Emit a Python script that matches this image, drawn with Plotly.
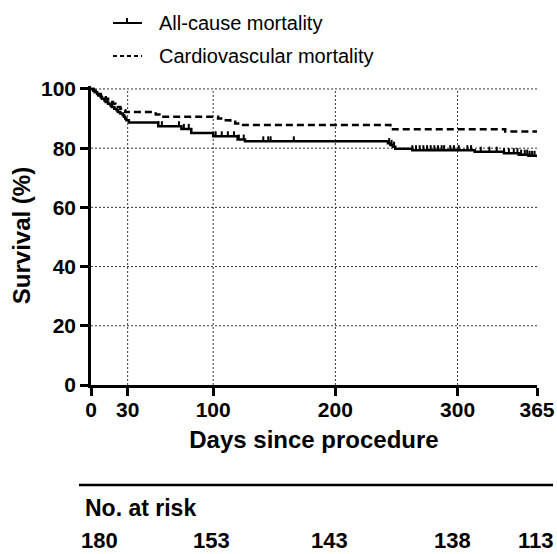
import numpy as np
import plotly.graph_objects as go

# ---------------- data ----------------
# All-cause mortality (Kaplan-Meier steps: day, survival %)
ac_days = [0, 2, 3, 5, 6, 8, 9, 11, 12, 14, 16, 17, 19, 21, 22, 24, 26, 27, 28, 29, 31,
           55, 74, 82, 100, 120, 126, 243, 245, 247, 249, 263, 314, 338, 350, 358, 365]
ac_surv = [100, 99.4, 98.9, 98.3, 97.8, 97.2, 96.7, 96.1, 95.6, 95.0, 94.4, 93.9, 93.3,
           92.8, 92.2, 91.7, 91.1, 90.6, 90.0, 89.4, 88.7,
           87.4, 86.5, 85.1, 84.0, 82.9, 82.3, 81.7, 81.1, 80.5, 79.8, 79.3, 78.8, 78.3,
           77.8, 77.4, 77.4]
# censored observations (all-cause curve)
ac_censor_days = [55, 58, 72, 76, 80, 82, 102, 107, 112, 117, 121, 125, 141, 145, 147, 166,
                  244, 246, 248, 263, 266, 269, 272, 275, 278, 281, 284, 287, 289, 294, 297,
                  301, 308, 311, 319, 326, 332, 338, 342, 346, 349, 352, 355, 357, 359, 361, 363]

# Cardiovascular mortality
cv_days = [0, 2, 4, 6, 8, 10, 12, 14, 16, 18, 20, 22, 24, 26, 28, 53, 56,
           104, 109, 114, 118, 123, 245, 339, 365]
cv_surv = [100, 99.4, 98.9, 98.3, 97.8, 97.2, 96.7, 96.1, 95.6, 95.0, 94.4, 93.9, 93.3,
           92.8, 92.2, 91.4, 90.6, 90.0, 89.4, 88.9, 88.3, 87.8, 86.4, 85.6, 85.6]

x_ticks = [0, 30, 100, 200, 300, 365]
y_ticks = [0, 20, 40, 60, 80, 100]
x_grid = [30, 100, 200, 300]
y_grid = [20, 40, 60, 80, 100]

risk_days = [0, 100, 200, 300, 365]
risk_counts = [180, 153, 143, 138, 113]

series_names = ["All-cause mortality", "Cardiovascular mortality"]

# ---------------- layout constants ----------------
W, H = 557, 554
ML, MR, MT, MB = 91, 20, 86, 169
PW = W - ML - MR
PH = H - MT - MB
FONT = "Arial, Liberation Sans, sans-serif"


def px_x(px):
    return (px - ML) / PW


def px_y(py):
    return (H - MB - py) / PH


def step_value(days, surv, t):
    i = np.searchsorted(np.array(days), t, side="right") - 1
    return surv[max(i, 0)]


fig = go.Figure()

fig.add_trace(go.Scatter(
    x=cv_days, y=cv_surv, mode="lines", line_shape="hv",
    line=dict(color="black", width=2.5, dash="7px,4px"),
    name=series_names[1], showlegend=False, hoverinfo="skip"))

fig.add_trace(go.Scatter(
    x=ac_days, y=ac_surv, mode="lines", line_shape="hv",
    line=dict(color="black", width=2.5),
    name=series_names[0], showlegend=False, hoverinfo="skip"))

censor_y = [step_value(ac_days, ac_surv, t) for t in ac_censor_days]
fig.add_trace(go.Scatter(
    x=ac_censor_days, y=censor_y, mode="markers",
    marker=dict(size=1, color="black"),
    error_y=dict(type="data", symmetric=False,
                 array=[1.7] * len(ac_censor_days),
                 arrayminus=[0] * len(ac_censor_days),
                 width=0, thickness=2, color="black"),
    showlegend=False, hoverinfo="skip"))

shapes = []
# dotted grid
for gx in x_grid:
    shapes.append(dict(type="line", xref="x", yref="y", x0=gx, x1=gx, y0=0, y1=100,
                       line=dict(color="#333", width=1, dash="2px,2px"), layer="below"))
for gy in y_grid:
    shapes.append(dict(type="line", xref="x", yref="y", x0=0, x1=365, y0=gy, y1=gy,
                       line=dict(color="#333", width=1, dash="2px,2px"), layer="below"))

# manual legend
shapes.append(dict(type="line", xref="paper", yref="paper",
                   x0=px_x(113), x1=px_x(142), y0=px_y(23), y1=px_y(23),
                   line=dict(color="black", width=2)))
shapes.append(dict(type="line", xref="paper", yref="paper",
                   x0=px_x(127), x1=px_x(127), y0=px_y(23), y1=px_y(18),
                   line=dict(color="black", width=2)))
shapes.append(dict(type="line", xref="paper", yref="paper",
                   x0=px_x(113), x1=px_x(142), y0=px_y(56), y1=px_y(56),
                   line=dict(color="black", width=2, dash="4px,3px")))

# separator above number at risk
shapes.append(dict(type="line", xref="paper", yref="paper",
                   x0=px_x(79), x1=px_x(553), y0=px_y(485), y1=px_y(485),
                   line=dict(color="black", width=2.5)))

annotations = [
    dict(text=series_names[0], xref="paper", yref="paper", x=px_x(157), y=px_y(23),
         xanchor="left", yanchor="middle", showarrow=False,
         font=dict(family=FONT, size=20, color="black")),
    dict(text=series_names[1], xref="paper", yref="paper", x=px_x(157), y=px_y(56),
         xanchor="left", yanchor="middle", showarrow=False,
         font=dict(family=FONT, size=20, color="black")),
    dict(text="<b>No. at risk</b>", xref="paper", yref="paper", x=px_x(83), y=px_y(508),
         xanchor="left", yanchor="middle", showarrow=False,
         font=dict(family=FONT, size=23, color="black")),
]
risk_xshift = [8, -2, -6, -5, -1]
for d, c, sh in zip(risk_days, risk_counts, risk_xshift):
    annotations.append(dict(text=f"<b>{c}</b>", xref="x", yref="paper", x=d, y=px_y(554),
                            xanchor="center", yanchor="bottom", showarrow=False, xshift=sh,
                            borderpad=0,
                            font=dict(family=FONT, size=22, color="black")))

fig.update_layout(
    width=W, height=H,
    margin=dict(l=ML, r=MR, t=MT, b=MB, pad=0, autoexpand=False),
    paper_bgcolor="white", plot_bgcolor="white",
    showlegend=False,
    shapes=shapes, annotations=annotations,
    xaxis=dict(range=[0, 365], tickvals=x_ticks, ticktext=[str(v) for v in x_ticks],
               automargin=False, ticklabelstandoff=-4,
               showgrid=False, zeroline=False, showline=True, linecolor="black", linewidth=2.5,
               ticks="outside", ticklen=8, tickwidth=2.5, tickcolor="black",
               tickfont=dict(family=FONT, size=21, color="black", weight="bold"),
               title=dict(text="Days since procedure", standoff=12,
                          font=dict(family=FONT, size=24, color="black", weight="bold"))),
    yaxis=dict(range=[0, 101], tickvals=y_ticks, ticktext=[str(v) for v in y_ticks],
               automargin=False,
               showgrid=False, zeroline=False, showline=True, linecolor="black", linewidth=2.5,
               ticks="outside", ticklen=8, tickwidth=2.5, tickcolor="black",
               tickfont=dict(family=FONT, size=21, color="black", weight="bold"),
               title=dict(text="Survival (%)", standoff=4,
                          font=dict(family=FONT, size=24, color="black", weight="bold"))),
)

# remove the browser's default page margin so the figure fills the window exactly
fig.write_html("out.html", config={"displayModeBar": False},
               post_script="document.body.style.margin='0';")
